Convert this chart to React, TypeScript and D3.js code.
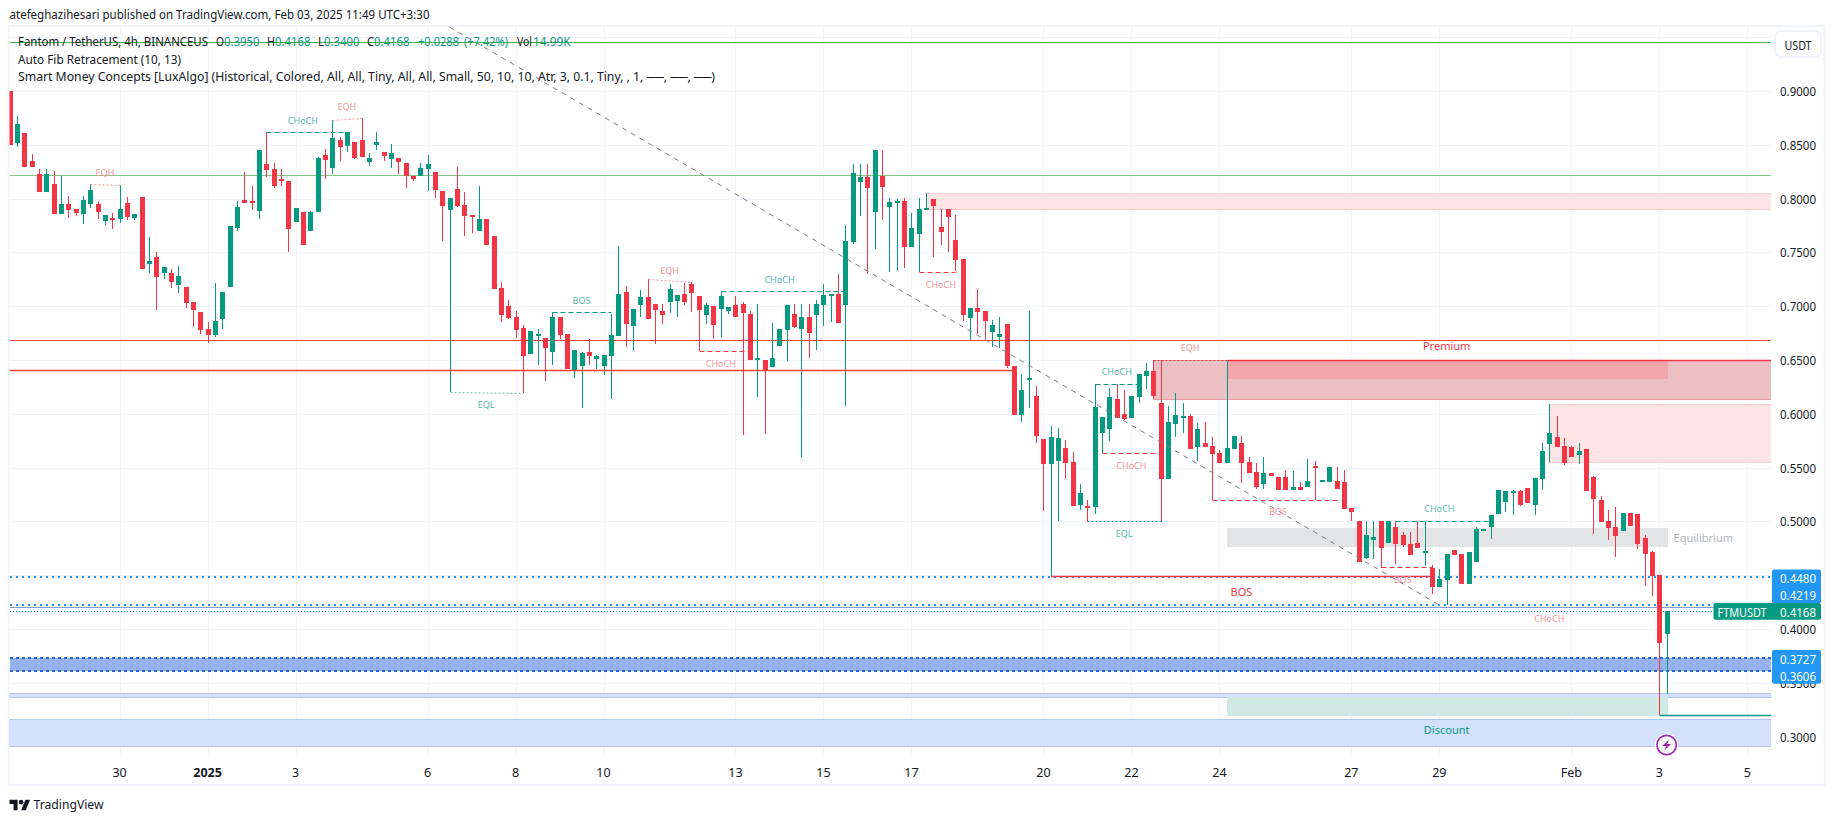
import React from "react";
import * as d3 from "d3";

// 4h candles, [open, high, low, close]
const ohlc: number[][] = [
  [.9003,.9003,.8498,.8498],[.8517,.8768,.8480,.8694],[.8610,.8610,.8294,.8294],[.8350,.8415,.8294,.8294],[.8229,.8275,.8062,.8062],
  [.8062,.8275,.8062,.8229],[.8136,.8257,.7857,.7857],[.7857,.8210,.7857,.7950],[.7950,.8024,.7820,.7894],[.7904,.7904,.7838,.7866],
  [.7857,.8024,.7764,.7987],[.7950,.8136,.7913,.8080],[.7950,.7978,.7811,.7876],[.7792,.7848,.7755,.7848],[.7820,.7866,.7718,.7801],
  [.7811,.8127,.7773,.7904],[.7959,.8015,.7801,.7829],[.7820,.7857,.7801,.7857],[.8015,.8015,.7346,.7346],[.7392,.7643,.7309,.7420],
  [.7457,.7504,.6965,.7272],[.7309,.7364,.7253,.7364],[.7309,.7346,.7169,.7225],[.7197,.7374,.7123,.7281],[.7179,.7179,.6983,.7030],
  [.7039,.7039,.6807,.6965],[.6946,.6946,.6742,.6779],[.6788,.6853,.6658,.6733],[.6733,.7216,.6714,.6863],[.6881,.7132,.6788,.7132],
  [.7179,.7746,.7179,.7746],[.7727,.7978,.7699,.7922],[.7987,.8247,.7959,.7959],[.7978,.8117,.7894,.7969],[.7885,.8452,.7811,.8452],
  [.8322,.8616,.8201,.8266],[.8275,.8331,.8099,.8117],[.8182,.8275,.8117,.8164],[.8164,.8164,.7504,.7718],[.7783,.7913,.7783,.7913],
  [.7876,.7876,.7569,.7569],[.7699,.7885,.7699,.7876],[.7876,.8387,.7876,.8378],[.8405,.8461,.8182,.8359],[.8285,.8731,.8229,.8563],
  [.8545,.8573,.8350,.8480],[.8489,.8619,.8433,.8619],[.8526,.8526,.8368,.8378],[.8545,.8749,.8387,.8387],[.8340,.8424,.8303,.8378],
  [.8498,.8619,.8452,.8526],[.8433,.8433,.8350,.8396],[.8368,.8508,.8285,.8424],[.8378,.8378,.8229,.8340],[.8331,.8331,.8099,.8210],
  [.8210,.8210,.8164,.8182],[.8210,.8331,.8210,.8285],[.8275,.8405,.8071,.8322],[.8247,.8247,.8006,.8080],[.8071,.8071,.7606,.7931],
  [.7894,.8006,.6200,.8006],[.8089,.8294,.7922,.7931],[.7941,.8062,.7653,.7838],[.7848,.7848,.7680,.7838],[.7699,.8117,.7699,.7811],
  [.7811,.7811,.7569,.7569],[.7653,.7653,.7160,.7160],[.7169,.7225,.6853,.6918],[.7002,.7058,.6881,.6890],[.6900,.6956,.6705,.6779],
  [.6798,.6825,.6190,.6537],[.6556,.6770,.6556,.6770],[.6723,.6788,.6454,.6742],[.6705,.6705,.6305,.6612],[.6575,.6943,.6454,.6900],
  [.6900,.6900,.6695,.6733],[.6742,.6742,.6417,.6417],[.6407,.6593,.6333,.6593],[.6444,.6575,.6054,.6565],[.6575,.6695,.6454,.6537],
  [.6509,.6547,.6417,.6537],[.6444,.6547,.6361,.6547],[.6537,.6928,.6138,.6733],[.6723,.7560,.6723,.7114],[.7132,.7188,.6621,.6835],
  [.6816,.6974,.6584,.6974],[.7012,.7151,.6900,.7086],[.7086,.7253,.6881,.6881],[.7021,.7021,.6649,.6965],[.6956,.7021,.6835,.6919],
  [.7039,.7207,.6937,.7160],[.7049,.7104,.6900,.7104],[.7114,.7216,.7012,.7039],[.7207,.7225,.6947,.7123],[.7095,.7095,.6584,.6965],
  [.6919,.7030,.6835,.7012],[.7002,.7002,.6696,.6826],[.6974,.7142,.6714,.7095],[.6956,.6993,.6928,.6993],[.7012,.7095,.6900,.6900],
  [.7021,.7039,.5806,.6937],[.6928,.6956,.6500,.6500],[.6510,.7021,.6156,.6519],[.6500,.6500,.5816,.6407],[.6435,.6844,.6435,.6519],
  [.6630,.6788,.6630,.6788],[.6779,.7012,.6491,.7012],[.6928,.7021,.6798,.6807],[.6788,.7021,.5599,.6900],[.6900,.7021,.6519,.6751],
  [.6919,.7058,.6593,.7021],[.7012,.7207,.6816,.7104],[.7095,.7114,.6854,.7114],[.7114,.7300,.6844,.6844],[.7012,.7755,.6073,.7606],
  [.7597,.8322,.7578,.8238],[.8155,.8322,.7839,.8201],[.8201,.8322,.7300,.8099],[.7876,.8452,.7532,.8452],[.8210,.8452,.7802,.8108],
  [.7922,.8006,.7318,.7969],[.7960,.7997,.7328,.7978],[.7978,.8006,.7355,.7551],[.7551,.7867,.7551,.7727],[.7671,.8006,.7315,.7904],
  [.7894,.8052,.7894,.7913],[.7997,.7997,.7458,.7932],[.7736,.7904,.7569,.7690],[.7904,.7904,.7504,.7829],[.7616,.7848,.7328,.7430],
  [.7439,.7439,.6863,.6919],[.6891,.6984,.6686,.6984],[.6984,.7160,.6742,.6947],[.6956,.6956,.6686,.6863],[.6761,.6872,.6621,.6826],
  [.6714,.6900,.6612,.6742],[.6835,.6835,.6426,.6445],[.6445,.6445,.5989,.5989],[.5989,.6370,.5924,.6222],[.6324,.6956,.6054,.6333],
  [.6166,.6259,.5729,.5794],[.5766,.5766,.5097,.5534],[.5534,.5887,.4487,.5785],[.5562,.5868,.5004,.5775],[.5682,.5757,.5394,.5543],
  [.5552,.5645,.5143,.5143],[.5153,.5348,.5106,.5264],[.5143,.5199,.4998,.5134],[.5134,.6277,.5069,.6064],[.5822,.5971,.5633,.5971],
  [.5859,.6240,.5748,.6156],[.6138,.6277,.5961,.5961],[.5998,.6222,.5943,.5952],[.5961,.6166,.5961,.6166],[.6156,.6370,.6104,.6370],
  [.6352,.6472,.6231,.6398],[.6398,.6500,.6138,.6166],[.6100,.6500,.5004,.5394],[.5394,.6073,.5394,.5924],[.5905,.6193,.5784,.5989],
  [.5970,.6100,.5822,.5980],[.5980,.5998,.5673,.5673],[.5692,.5915,.5561,.5859],[.5729,.5924,.5692,.5692],[.5701,.5784,.5199,.5626],
  [.5636,.5664,.5543,.5543],[.5543,.6500,.5543,.5682],[.5673,.5794,.5673,.5794],[.5729,.5794,.5357,.5543],[.5552,.5599,.5450,.5450],
  [.5459,.5543,.5301,.5320],[.5348,.5599,.5301,.5450],[.5450,.5450,.5422,.5422],[.5413,.5413,.5292,.5292],[.5413,.5478,.5292,.5292],
  [.5292,.5468,.5292,.5320],[.5320,.5366,.5292,.5292],[.5320,.5580,.5320,.5376],[.5515,.5561,.5196,.5506],[.5376,.5385,.5376,.5385],
  [.5366,.5506,.5366,.5506],[.5376,.5506,.5301,.5301],[.5366,.5478,.5115,.5115],[.5125,.5125,.5004,.5087],[.5004,.5004,.4623,.4623],
  [.4660,.5004,.4651,.4874],[.4827,.5004,.4651,.4855],[.5004,.5004,.4567,.4753],[.4799,.5004,.4799,.5004],[.4948,.5004,.4604,.4790],
  [.4874,.4902,.4762,.4781],[.4790,.4902,.4688,.4688],[.4799,.5004,.4753,.4753],[.4706,.5004,.4586,.4725],[.4567,.4595,.4325,.4390],
  [.4390,.4558,.4390,.4465],[.4455,.4697,.4223,.4697],[.4734,.4734,.4688,.4688],[.4697,.4697,.4418,.4418],[.4418,.4716,.4418,.4716],
  [.4623,.4948,.4623,.4929],[.4920,.4929,.4920,.4929],[.4948,.5060,.4836,.5060],[.5069,.5292,.5069,.5292],[.5180,.5283,.5087,.5283],
  [.5273,.5292,.5060,.5283],[.5283,.5292,.5143,.5152],[.5310,.5310,.5171,.5171],[.5152,.5403,.5060,.5403],[.5394,.5729,.5292,.5654],
  [.5719,.6091,.5552,.5822],[.5784,.5980,.5692,.5692],[.5701,.5775,.5524,.5543],[.5692,.5701,.5599,.5599],[.5617,.5729,.5534,.5654],
  [.5673,.5673,.5283,.5283],[.5413,.5422,.4883,.5208],[.5199,.5236,.4994,.4994],[.5004,.5106,.4827,.4939],[.4948,.5134,.4669,.4864],
  [.4911,.5078,.4911,.5078],[.5078,.5078,.4957,.4957],[.5069,.5069,.4744,.4790],[.4846,.4874,.4400,.4697],[.4716,.4725,.4307,.4493],
  [.4502,.4502,.3201,.3870],[.3950,.4168,.3400,.4168],
];

const priceTicks = [0.95, 0.9, 0.85, 0.8, 0.75, 0.7, 0.65, 0.6, 0.55, 0.5, 0.45, 0.4, 0.35, 0.3];
const priceLabels = [0.9, 0.85, 0.8, 0.75, 0.7, 0.65, 0.6, 0.55, 0.5, 0.45, 0.4, 0.35, 0.3];
const timeTicks: [number, string][] = [
  [16, "30"], [28, "2025"], [40, "3"], [58, "6"], [70, "8"], [82, "10"], [100, "13"], [112, "15"], [124, "17"],
  [142, "20"], [154, "22"], [166, "24"], [184, "27"], [196, "29"], [214, "Feb"], [226, "3"], [238, "5"],
];

// solid levels: price, colour
const levels: [number, string][] = [
  [0.9453, "#4caf50"], [0.8216, "#81c784"], [0.6684, "#f44336"], [0.4207, "#7f9fd6"],
];
const dottedLevels = [0.448, 0.4219];
const blueBand = [0.3727, 0.3606];

// zones: from candle, top, bottom, fill, edge (to the right edge when end is null)
const zones: [number, number | null, number, number, string, string][] = [
  [126, null, 0.8049, 0.7907, "#fce3e4", "#f9cdd0"],
  [157, null, 0.6497, 0.6141, "#ecbfc2", "#e79ea3"],
  [167, 227, 0.6497, 0.6336, "#f0a6aa", "#f0a6aa"],
  [211, null, 0.6091, 0.5555, "#fce3e4", "#f9cdd0"],
  [167, 227, 0.4939, 0.4771, "#e2e4e6", "#e2e4e6"],
  [167, 227, 0.3371, 0.3201, "#cfeae4", "#cfeae4"],
];
const fullBands: [number, number][] = [[0.3402, 0.3371], [0.316, 0.2916]];

// structure lines: start candle, end candle, start price, end price, colour, style
const structure: [number, number, number, number, string, string][] = [
  [12, 16, 0.8136, 0.8127, "#f7949c", "dot"],
  [36, 47, 0.8616, 0.8616, "#089981", "dash"],
  [45, 49, 0.8731, 0.8749, "#f7949c", "dot"],
  [61, 71, 0.62, 0.619, "#6cc2b3", "dot"],
  [75, 83, 0.6943, 0.6943, "#089981", "dash"],
  [88, 94, 0.725, 0.7222, "#f7949c", "dot"],
  [95, 102, 0.6584, 0.6584, "#f23645", "dash"],
  [98, 115, 0.7139, 0.7139, "#089981", "dash"],
  [125, 130, 0.7315, 0.7315, "#f23645", "dash"],
  [149, 155, 0.6274, 0.6274, "#089981", "dash"],
  [150, 158, 0.5633, 0.5633, "#f23645", "dash"],
  [148, 158, 0.5001, 0.5001, "#089981", "dot"],
  [157, 167, 0.6497, 0.6497, "#f23645", "dot"],
  [165, 182, 0.5196, 0.5196, "#f23645", "dash"],
  [188, 195, 0.4573, 0.4573, "#f23645", "dash"],
  [190, 203, 0.5001, 0.5001, "#089981", "dash"],
  [143, 195, 0.4488, 0.4488, "#f23645", "solid"],
  [0, 138, 0.6404, 0.6404, "#f44336", "solid"],
  [167, 260, 0.6497, 0.6497, "#f23645", "solid"],
  [226, 260, 0.3197, 0.3197, "#089981", "solid"],
];

// small labels: text, candle, price, colour, size
const smcLabels: [string, number, number, string, number][] = [
  ["EQH", 14, 0.8244, "#f7949c", 9],
  ["CHoCH", 41, 0.8728, "#57b9a7", 9],
  ["EQH", 47, 0.8858, "#f7949c", 9],
  ["EQL", 66, 0.6085, "#57b9a7", 9],
  ["BOS", 79, 0.7055, "#57b9a7", 9],
  ["EQH", 91, 0.7331, "#f7949c", 9],
  ["CHoCH", 98, 0.6469, "#f7949c", 9],
  ["CHoCH", 106, 0.7247, "#57b9a7", 9],
  ["CHoCH", 128, 0.7201, "#f7949c", 9],
  ["CHoCH", 152, 0.6392, "#57b9a7", 9],
  ["CHoCH", 154, 0.5521, "#f7949c", 9],
  ["EQL", 153, 0.4886, "#57b9a7", 9],
  ["EQH", 162, 0.6618, "#f7949c", 9],
  ["BOS", 174, 0.5094, "#f7949c", 9],
  ["BOS", 191, 0.4462, "#f7949c", 9],
  ["CHoCH", 196, 0.5122, "#57b9a7", 9],
  ["CHoCH", 211, 0.4099, "#f7949c", 9],
  ["BOS", 169, 0.4347, "#f23645", 11],
  ["Premium", 197, 0.6639, "#f23645", 11],
  ["Equilibrium", 232, 0.4848, "#b2b5be", 11],
  ["Discount", 197, 0.3064, "#089981", 11],
];

const trend = { from: [61, 0.9595], to: [196, 0.4223] };

const legendItems: [string, number, number, string][] = [
  ["Fantom / TetherUS, 4h, BINANCEUS", 18, 190, "#131722"],
  ["O", 216, 8, "#131722"], ["0.3950", 224, 35.5, "#089981"],
  ["H", 267, 8, "#131722"], ["0.4168", 275, 35.5, "#089981"],
  ["L", 318, 6, "#131722"], ["0.3400", 324, 35.5, "#089981"],
  ["C", 367, 7, "#131722"], ["0.4168", 374, 35.5, "#089981"],
  ["+0.0288", 418, 41, "#089981"], ["(+7.42%)", 464, 44, "#089981"],
  ["Vol", 517, 15, "#131722"], ["14.99K", 533, 37.5, "#089981"],
];

const RED = "#f23645";
const GREEN = "#089981";
const GRID = "#f0f3fa";
const FONT = "'Noto Sans', 'Open Sans', sans-serif";

const W = 1835;
const H = 821;
const paneLeft = 9.5;
const paneRight = 1771;
const paneTop = 26;
const paneBottom = 758;

const x = d3.scaleLinear().domain([28, 226]).range([207.6, 1659.3]);
const y = d3.scaleLinear().domain([0.9, 0.3]).range([91, 736.6]);

const px = (i: number) => Math.round(x(i)) + 0.5;
const py = (p: number) => Math.round(y(p));

const dashOf = (s: string) => (s === "dash" ? "5 3" : s === "dot" ? "2 2" : undefined);

function App() {
  const bars = ohlc.map((d, k) => ({ i: k + 1, open: d[0], high: d[1], low: d[2], close: d[3] }));
  return (
    <svg width={W} height={H} style={{ position: "absolute", left: 0, top: 0, background: "#fff" }} fontFamily={FONT}>
      <defs>
        <clipPath id="pane">
          <rect x={paneLeft} y={paneTop} width={paneRight - paneLeft} height={paneBottom - paneTop} />
        </clipPath>
      </defs>

      <text x={9.5} y={19} fontSize={13} fill="#131722" textLength={420} lengthAdjust="spacingAndGlyphs">
        atefeghazihesari published on TradingView.com, Feb 03, 2025 11:49 UTC+3:30
      </text>

      <rect x={8.5} y={26} width={1816} height={759} fill="none" stroke={GRID} strokeWidth={2} />

      {/* grid */}
      <g stroke={GRID} strokeWidth={1} shapeRendering="crispEdges">
        {priceTicks.map((p) => (
          <line key={p} x1={paneLeft} x2={paneRight} y1={py(p)} y2={py(p)} />
        ))}
        {timeTicks.map(([i]) => (
          <line key={i} x1={px(i)} x2={px(i)} y1={paneTop} y2={paneBottom} />
        ))}
      </g>

      <g clipPath="url(#pane)">
        {/* zones */}
        <g shapeRendering="crispEdges">
          {fullBands.map(([a, b]) => (
            <rect key={a} x={paneLeft} width={paneRight - paneLeft} y={py(a)} height={py(b) - py(a)} fill="#d4e1fd" stroke="#b3c7f7" />
          ))}
          {zones.map(([from, to, a, b, fill, edge], k) => {
            const x0 = px(from);
            const x1 = to === null ? paneRight + 2 : px(to);
            return <rect key={k} x={x0} width={x1 - x0} y={py(a)} height={py(b) - py(a)} fill={fill} stroke={edge} />;
          })}
          <rect x={paneLeft} width={paneRight - paneLeft} y={y(blueBand[0])} height={y(blueBand[1]) - y(blueBand[0])} fill="#96b3ef" />
        </g>

        {/* levels */}
        <g shapeRendering="crispEdges">
          {levels.map(([p, c]) => (
            <line key={p} x1={paneLeft} x2={paneRight} y1={py(p) + 0.5} y2={py(p) + 0.5} stroke={c} strokeWidth={1} />
          ))}
          {dottedLevels.map((p) => (
            <line key={p} x1={paneLeft} x2={paneRight} y1={py(p)} y2={py(p)} stroke="#2196f3" strokeWidth={2} strokeDasharray="2.5 3.5" />
          ))}
          {blueBand.map((p) => (
            <line key={p} x1={paneLeft} x2={paneRight} y1={py(p)} y2={py(p)} stroke="#2a66dd" strokeWidth={2} strokeDasharray="3 3" />
          ))}
          <line x1={paneLeft} x2={paneRight} y1={py(0.4168) + 0.5} y2={py(0.4168) + 0.5} stroke={GREEN} strokeWidth={1} strokeDasharray="1 2" />
        </g>

        {/* candles */}
        <g shapeRendering="crispEdges">
          {bars.map((b) => {
            const c = b.close >= b.open ? GREEN : RED;
            const top = py(Math.max(b.open, b.close));
            const bottom = py(Math.min(b.open, b.close));
            return (
              <g key={b.i} fill={c} stroke={c}>
                <line x1={px(b.i)} x2={px(b.i)} y1={py(b.high)} y2={py(b.low)} strokeWidth={1} />
                <rect x={px(b.i) - 2.5} y={top} width={5} height={Math.max(bottom - top, 2)} stroke="none" />
              </g>
            );
          })}
        </g>

        {/* market structure */}
        <g>
          {structure.map(([a, b, p0, p1, c, s], k) => (
            <line
              key={k}
              x1={a === 0 ? paneLeft : px(a)}
              x2={b === 260 ? paneRight : px(b)}
              y1={py(p0) + 0.5}
              y2={py(p1) + 0.5}
              stroke={c}
              strokeWidth={s === "solid" ? 1.3 : 1}
              strokeDasharray={dashOf(s)}
            />
          ))}
          <line
            x1={x(trend.from[0])}
            y1={y(trend.from[1])}
            x2={x(trend.to[0])}
            y2={y(trend.to[1])}
            stroke="#787b86"
            strokeWidth={1}
            strokeDasharray="5 5"
          />
        </g>

        {smcLabels.map(([t, i, p, c, s], k) => (
          <text key={k} x={x(i)} y={y(p)} fill={c} fontSize={s} textAnchor="middle" dominantBaseline="central">
            {t}
          </text>
        ))}

        {/* earnings mark */}
        <g transform={`translate(${x(227)},745)`}>
          <circle r={11.5} fill="#fff" />
          <circle r={9.7} fill="#fff" stroke="#9c27b0" strokeWidth={1.7} />
          <path d="M2.5 -5.5 L-4.5 1 L-0.5 1 L-2.5 5.5 L4.5 -1 L0.5 -1 Z" fill="#9c27b0" />
        </g>
      </g>

      {/* legend */}
      <g fontSize={12.5} dominantBaseline="central">
        {legendItems.map(([t, lx, w, c], k) => (
          <text key={k} x={lx} y={41.5} fill={c} textLength={w} lengthAdjust="spacingAndGlyphs">{t}</text>
        ))}
        <text x={18} y={59} fill="#131722" textLength={163} lengthAdjust="spacingAndGlyphs">Auto Fib Retracement (10, 13)</text>
        <text x={18} y={76} fill="#131722" textLength={697} lengthAdjust="spacingAndGlyphs">
          Smart Money Concepts [LuxAlgo] (Historical, Colored, All, All, Tiny, All, All, Small, 50, 10, 10, Atr, 3, 0.1, Tiny, , 1, ──, ──, ──)
        </text>
      </g>

      {/* price axis */}
      <g fontSize={13} fill="#131722" textAnchor="middle" dominantBaseline="central">
        {priceLabels.map((p) => (
          <text key={p} x={1798} y={y(p)} textLength={36} lengthAdjust="spacingAndGlyphs">{p.toFixed(4)}</text>
        ))}
      </g>
      <rect x={1775} y={31} width={46} height={26} rx={6} fill="#fff" stroke={GRID} strokeWidth={2} />
      <text x={1798} y={44.5} fontSize={13} fill="#131722" textAnchor="middle" dominantBaseline="central" textLength={27} lengthAdjust="spacingAndGlyphs">USDT</text>

      <g fontSize={13} textAnchor="middle" dominantBaseline="central" fill="#fff">
        <rect x={1772} y={569.5} width={49} height={34} rx={2} fill="#2196f3" />
        <text x={1798} y={577.7} textLength={36} lengthAdjust="spacingAndGlyphs">0.4480</text>
        <text x={1798} y={594.7} textLength={36} lengthAdjust="spacingAndGlyphs">0.4219</text>
        <rect x={1772} y={650} width={49} height={33.7} rx={2} fill="#2196f3" />
        <text x={1798} y={658.7} textLength={36} lengthAdjust="spacingAndGlyphs">0.3727</text>
        <text x={1798} y={675.7} textLength={36} lengthAdjust="spacingAndGlyphs">0.3606</text>
        <rect x={1713.5} y={603} width={107.5} height={16.7} rx={2} fill={GREEN} />
        <text x={1742} y={611.7} textLength={49} lengthAdjust="spacingAndGlyphs">FTMUSDT</text>
        <text x={1798} y={611.7} textLength={36} lengthAdjust="spacingAndGlyphs">0.4168</text>
      </g>

      {/* time axis */}
      <g fontSize={12.5} fill="#131722" textAnchor="middle" dominantBaseline="central">
        {timeTicks.map(([i, t]) => (
          <text key={i} x={x(i)} y={772} fontWeight={t === "2025" ? 700 : 400}>{t}</text>
        ))}
      </g>

      {/* footer logo */}
      <g transform="translate(9.5,797.5) scale(0.58)" fill="#131722">
        <path d="M14 22H7V11H0V4h14v18zM28 22h-8l7.5-18h8L28 22z" />
        <circle cx={20} cy={8} r={4} />
      </g>
      <text x={33.5} y={803.7} fontSize={13} fill="#131722" dominantBaseline="central" textLength={70} lengthAdjust="spacingAndGlyphs">TradingView</text>
    </svg>
  );
}

export default App;
